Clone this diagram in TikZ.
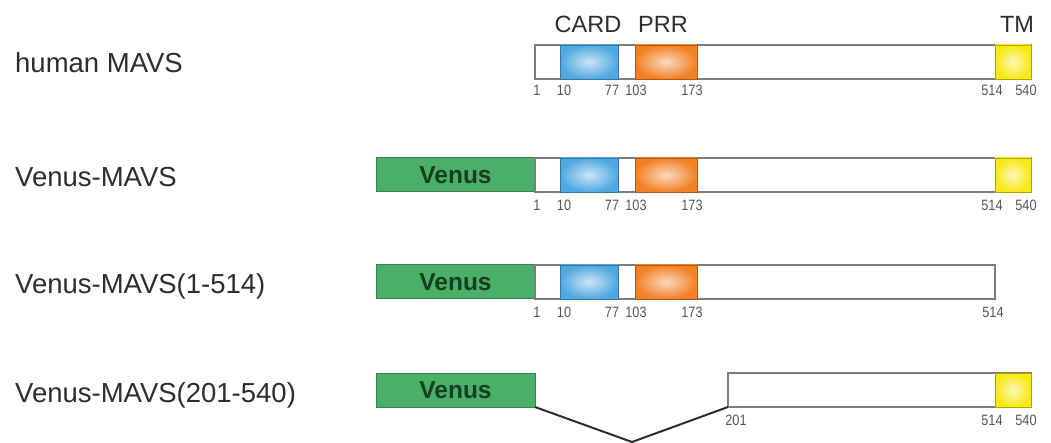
\documentclass[tikz,border=0pt]{standalone}
\usepackage{fontspec}
\setmainfont{Liberation Sans}
\newfontfamily\numfont[FakeStretch=0.85]{Liberation Sans}
\definecolor{venusgreen}{RGB}{74,176,104}
\definecolor{venusedge}{RGB}{60,130,80}
\definecolor{venustext}{RGB}{22,62,32}
\definecolor{cardblue}{RGB}{80,168,225}
\definecolor{prrorange}{RGB}{242,128,36}
\definecolor{tmyellow}{RGB}{248,232,20}
\definecolor{barline}{RGB}{125,125,125}
\definecolor{labelgray}{RGB}{45,45,45}
\definecolor{numgray}{RGB}{85,85,85}
\tikzset{
  bar/.style={draw=barline, line width=1.2pt, fill=white, anchor=north west,
    minimum height=34pt, inner sep=0pt, outer sep=0pt},
  dom/.style={draw=#1!70!black, line width=0.9pt, inner color=white!70!#1, outer color=#1,
    anchor=north west, minimum height=34pt, inner sep=0pt, outer sep=0pt},
  venusbox/.style={draw=venusedge, line width=1pt, fill=venusgreen, anchor=north west,
    minimum width=159pt, minimum height=34pt, inner sep=0pt, outer sep=0pt},
  venuslbl/.style={text=venustext, font=\fontsize{24.5}{26}\selectfont\bfseries, anchor=base},
  rowlbl/.style={text=labelgray, font=\fontsize{27.5}{30}\selectfont, anchor=base west, inner sep=0pt},
  domlbl/.style={text=labelgray, font=\fontsize{23.5}{26}\selectfont, anchor=base, inner sep=0pt},
  num/.style={text=numgray, font=\numfont\fontsize{15}{17}\selectfont, anchor=center, inner sep=0pt},
  gap/.style={draw=labelgray, line width=2pt, line join=round}
}
\begin{document}
\begin{tikzpicture}[x=1pt,y=-1pt]
\useasboundingbox (0,0) rectangle (1051,443);

% row labels
\node[rowlbl] (l1) at (15,73) {human MAVS};
\node[rowlbl] (l2) at (15,187) {Venus-MAVS};
\node[rowlbl] (l3) at (15,294) {Venus-MAVS(1-514)};
\node[rowlbl] (l4) at (15,402) {Venus-MAVS(201-540)};

% domain names
\node[domlbl] (tcard) at (588,33) {CARD};
\node[domlbl] (tprr) at (663,33) {PRR};
\node[domlbl] (ttm) at (1017,33) {TM};

% row 1: human MAVS
\node[bar, minimum width=496pt] (b1) at (535,45) {};
\node[dom=cardblue, minimum width=58pt] (c1) at (560,45) {};
\node[dom=prrorange, minimum width=62pt] (p1) at (635,45) {};
\node[dom=tmyellow, minimum width=36pt] (t1) at (995,45) {};
\foreach \x/\t [count=\i] in {537/1,564/10,612/77,636/103,692/173,992/514,1026/540}
  \node[num] (n1-\i) at (\x,90) {\t};

% row 2: Venus-MAVS
\node[venusbox] (v2) at (376,158) {};
\node[venuslbl] at ([yshift=-8.5pt]v2.center) {Venus};
\node[bar, minimum width=496pt] (b2) at (535,158) {};
\node[dom=cardblue, minimum width=58pt] (c2) at (560,158) {};
\node[dom=prrorange, minimum width=62pt] (p2) at (635,158) {};
\node[dom=tmyellow, minimum width=36pt] (t2) at (995,158) {};
\foreach \x/\t [count=\i] in {537/1,564/10,612/77,636/103,692/173,992/514,1026/540}
  \node[num] (n2-\i) at (\x,205) {\t};

% row 3: Venus-MAVS(1-514)
\node[venusbox] (v3) at (376,265) {};
\node[venuslbl] at ([yshift=-8.5pt]v3.center) {Venus};
\node[bar, minimum width=460pt] (b3) at (535,265) {};
\node[dom=cardblue, minimum width=58pt] (c3) at (560,265) {};
\node[dom=prrorange, minimum width=62pt] (p3) at (635,265) {};
\foreach \x/\t [count=\i] in {537/1,564/10,612/77,636/103,692/173,993/514}
  \node[num] (n3-\i) at (\x,312) {\t};

% row 4: Venus-MAVS(201-540)
\node[venusbox] (v4) at (376,373) {};
\node[venuslbl] at ([yshift=-8.5pt]v4.center) {Venus};
\node[bar, minimum width=303pt] (b4) at (728,373) {};
\node[dom=tmyellow, minimum width=36pt] (t4) at (995,373) {};
\foreach \x/\t [count=\i] in {736/201,992/514,1026/540}
  \node[num] (n4-\i) at (\x,420) {\t};

% deleted region 1-200
\coordinate (vtip) at (632,442);
\draw[gap] (v4.south east) -- (vtip) -- (b4.south west);
\end{tikzpicture}
\end{document}
